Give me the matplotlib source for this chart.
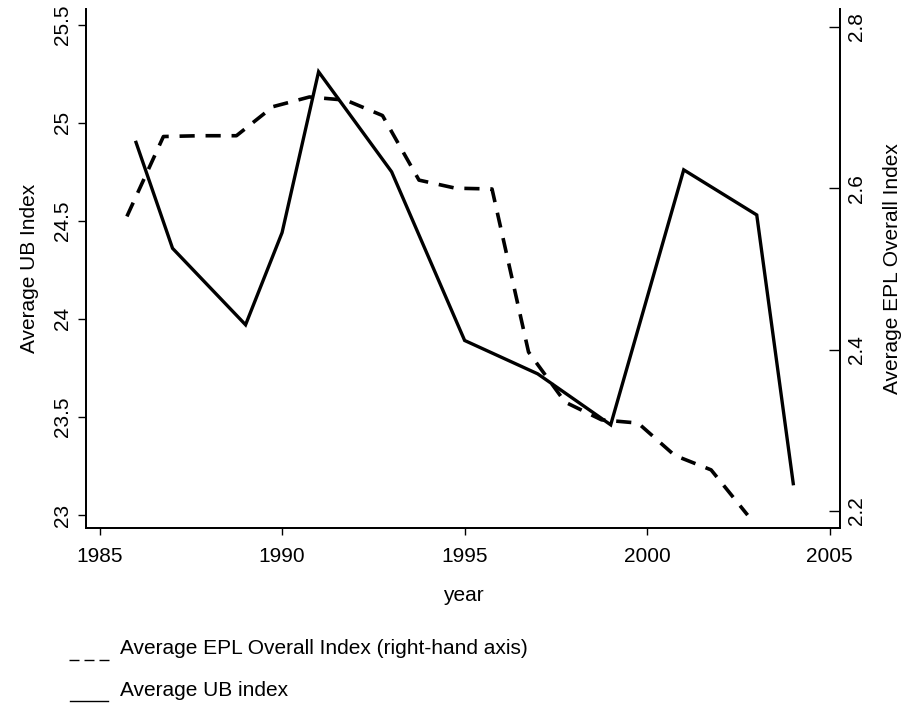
import matplotlib
matplotlib.use("Agg")
import matplotlib.pyplot as plt
from matplotlib.lines import Line2D

plt.rcParams['font.family'] = ['Liberation Sans', 'DejaVu Sans']

# UB index (left axis, solid)
ub_years = [1986, 1987, 1989, 1990, 1991, 1993, 1995, 1997, 1999, 2001, 2003, 2004]
ub_values = [24.90, 24.36, 23.97, 24.44, 25.26, 24.75, 23.89, 23.72, 23.46, 24.76, 24.53, 23.16]

# EPL overall index (right axis, dashed)
epl_years = [1985.75, 1986.75, 1987.75, 1988.75, 1989.75, 1990.75, 1991.75, 1992.75,
             1993.75, 1994.75, 1995.75, 1996.75, 1997.75, 1998.75, 1999.75, 2000.75,
             2001.75, 2002.75]
epl_values = [2.565, 2.664, 2.665, 2.665, 2.701, 2.713, 2.709, 2.690,
              2.610, 2.600, 2.599, 2.397, 2.335, 2.313, 2.309, 2.269,
              2.251, 2.195]

x_ticks = [1985, 1990, 1995, 2000, 2005]
left_ticks = [23, 23.5, 24, 24.5, 25, 25.5]
left_ticklabels = ['23', '23.5', '24', '24.5', '25', '25.5']
right_ticks = [2.2, 2.4, 2.6, 2.8]
right_ticklabels = ['2.2', '2.4', '2.6', '2.8']

W, H = 906, 709
fig = plt.figure(figsize=(W / 100, H / 100), dpi=100)
L, R, B, T = 86, 840, 528, 9
ax = fig.add_axes([L / W, 1 - B / H, (R - L) / W, (B - T) / H])
ax2 = ax.twinx()

FS = 15
ax.plot(ub_years, ub_values, color='black', lw=2.4, solid_joinstyle='miter')
ax2.plot(epl_years, epl_values, color='black', lw=2.6, dashes=(4.2, 3.0),
         dash_capstyle='butt')

ax.set_xlim(1984.63, 2005.28)
ax.set_ylim(22.934, 25.58)
ax2.set_ylim(2.179, 2.822)

ax.set_xticks(x_ticks)
ax.set_xticklabels([str(v) for v in x_ticks], fontsize=FS)
ax.set_yticks(left_ticks)
ax.set_yticklabels(left_ticklabels, fontsize=FS, rotation=90, va='center')
ax2.set_yticks(right_ticks)
ax2.set_yticklabels(right_ticklabels, fontsize=FS, rotation=90, va='center')

ax.tick_params(axis='x', direction='out', length=5, width=1, pad=9)
ax.tick_params(axis='y', direction='out', length=6, width=1, pad=4)
ax2.tick_params(axis='y', direction='in', length=8, width=1, pad=5)

for a in (ax, ax2):
    a.spines['top'].set_visible(False)
    for s in ('left', 'right', 'bottom'):
        a.spines[s].set_linewidth(1.3)

ax.set_xlabel('year', fontsize=FS, labelpad=14)
ax.set_ylabel('Average UB Index', fontsize=FS, labelpad=10)
ax2.set_ylabel('Average EPL Overall Index', fontsize=FS, labelpad=12)

# legend below plot
fig.add_artist(Line2D([69 / W, 109 / W], [1 - 660 / H, 1 - 660 / H], color='black',
                      lw=1.0, dashes=(7.2, 3.6)))
fig.text(120 / W, 1 - 649 / H, 'Average EPL Overall Index (right-hand axis)',
         fontsize=FS, va='center', ha='left')
fig.add_artist(Line2D([70 / W, 108 / W], [1 - 701 / H, 1 - 701 / H], color='black',
                      lw=1.0))
fig.text(120 / W, 1 - 690 / H, 'Average UB index', fontsize=FS, va='center', ha='left')

fig.savefig('out.png', dpi=100)
